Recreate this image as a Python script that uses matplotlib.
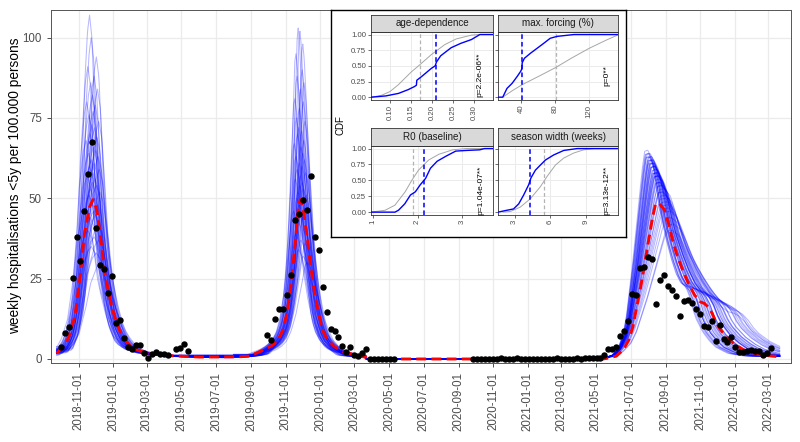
import numpy as np
import pandas as pd
import matplotlib
matplotlib.use('Agg')
import matplotlib.pyplot as plt
import matplotlib.dates as mdates

plt.rcParams['font.family'] = ['Liberation Sans', 'DejaVu Sans']

W, H = 800, 442
nan = np.nan

# observed weekly hospitalisations, one value per week from obs_start (nan = no data)
obs_start = '2018-09-30'
obs_season1 = [3.8, 8.0, 9.8, 25.2, 38.0, 30.5, 46.1, 57.7, 67.4, 40.9, 29.3, 27.9, 20.6,
               25.8, 11.3, 12.1, 6.6, 3.8, 3.0, 4.3, 4.3, 1.8, 0.2, 1.5, 2.3, 1.5, 1.5, 1.3,
               nan, 3.1, 3.5, 4.6, 2.5]
obs_gap1 = [nan] * 19
obs_season2 = [7.4, 5.9, 12.3, 15.4, 15.4, 19.8, 26.0, 43.4, 45.2, 49.6, 46.3, 56.8, 38.0,
               33.9, 22.3, 14.6, 9.4, 8.8, 6.7, 4.0, 2.2, 3.8, 1.3, 0.9, 1.8, 3.0,
               0, 0, 0, 0, 0, 0, 0]
obs_gap2 = [nan] * 19
obs_lockdown = [0, 0, 0, 0, 0, 0, 0, 0.4, 0, 0, 0, 0.4, 0, 0, 0, 0, 0, 0, 0, 0,
                0, 0.3, 0, 0, 0, 0, 0.3, 0, 0.4, 0.3]
obs_season3 = [0.2, 0.2, 0.2, 1.2, 3.0, 3.2, 3.8, 7.1, 8.6, 11.8, 20.2, 19.8, 28.2, 28.7,
               31.8, 31.1, 17.1, 24.5, 26.1, 22.7, 21.4, 19.7, 13.4, 18.1, 18.5, 17.3, 15.4,
               14.0, 10.2, 9.8, 11.8, 5.7, 10.5, 6.1, 5.3, 6.7, 3.6, 2.2, 2.2, 2.6, 2.8, 2.4,
               2.6, 1.2, 1.8, 3.4]

# mean model trajectory (red dashed)
red_dates = ['2018-09-23', '2018-10-07', '2018-10-14', '2018-10-25', '2018-11-04', '2018-11-11',
             '2018-11-20', '2018-11-26', '2018-12-03', '2018-12-10', '2018-12-17', '2018-12-24',
             '2018-12-31', '2019-01-07', '2019-01-14', '2019-01-21', '2019-02-04', '2019-02-25',
             '2019-04-02', '2019-06-02', '2019-08-12', '2019-08-29',
             '2019-09-29', '2019-10-06', '2019-10-13', '2019-10-20', '2019-10-27', '2019-11-03',
             '2019-11-10', '2019-11-17', '2019-11-24', '2019-11-27', '2019-12-01', '2019-12-08',
             '2019-12-15', '2019-12-22', '2019-12-29', '2020-01-05', '2020-01-12', '2020-01-26',
             '2020-02-09', '2020-03-02', '2020-03-16', '2020-03-21', '2020-03-22',
             '2021-05-13', '2021-05-20', '2021-06-06', '2021-06-18', '2021-06-28', '2021-07-05',
             '2021-07-12', '2021-07-19', '2021-07-26', '2021-08-02', '2021-08-09', '2021-08-14',
             '2021-08-21', '2021-08-30', '2021-09-06', '2021-09-13', '2021-09-20', '2021-10-01',
             '2021-10-11', '2021-10-22', '2021-11-01', '2021-11-08', '2021-11-15', '2021-11-22',
             '2021-11-29', '2021-12-06', '2021-12-20', '2022-01-03', '2022-01-17', '2022-01-31',
             '2022-02-14', '2022-03-08', '2022-03-21']
red_values = [1.8, 4.3, 6.7, 13.1, 26.6, 39.0, 47.3, 49.6, 46.3, 37.0, 26.6, 20.4,
              15.2, 11.1, 8.0, 5.9, 3.3, 2.0, 1.1, 0.6, 0.7, 0.9,
              3.3, 4.0, 4.9, 6.5, 9.0, 14.2, 22.5, 34.9, 48.4, 49.6, 47.3, 39.0,
              28.7, 20.4, 14.2, 9.0, 6.4, 3.8, 2.3, 1.3, 0.7, 0.6, 0.0,
              0.0, 0.2, 0.9, 2.8, 5.9, 10.0, 16.2, 22.5, 29.7, 37.0, 44.2, 48.1,
              48.4, 46.3, 42.1, 37.0, 32.8, 27.6, 23.5, 19.9, 17.8, 17.3, 16.2, 14.2,
              11.3, 9.2, 6.3, 4.3, 2.8, 2.0, 1.3, 0.9, 0.7]

# season windows and peak dates of the mean trajectory
season_start = ['2018-09-23', '2019-08-01', '2021-05-13']
season_end = ['2019-08-01', '2020-03-22', '2022-03-22']
season_peak = ['2018-11-26', '2019-11-27', '2021-08-18']

# sampled trajectories (blue): peak height and peak lag (days) per season, width factors
peak1 = [107, 100, 94, 91, 88, 86, 84, 82, 80, 79, 77, 76, 74, 73, 72, 70, 69, 68, 66, 65,
         64, 63, 62, 61, 60, 59, 58, 57, 56, 55, 54, 53, 52, 51, 50, 49, 48, 47, 46, 45,
         44, 42, 40, 38, 37, 35, 33, 30]
peak2 = [103, 102, 98, 95, 90, 88, 86, 84, 81, 80, 78, 75, 74, 72, 71, 70, 68, 67, 66, 64,
         63, 62, 61, 60, 59, 58, 57, 56, 55, 54, 53, 52, 51, 50, 49, 48, 47, 46, 45, 44,
         43, 41, 39, 37, 36, 34, 32, 30]
peak3 = [62, 64, 58, 65, 60, 63, 55, 61, 64, 57, 60, 63, 52, 61, 58, 62, 54, 64, 57, 59,
         62, 50, 60, 55, 63, 48, 57, 62, 53, 59, 51, 58, 46, 61, 55, 58, 49, 63, 56, 52,
         60, 44, 61, 54, 42, 57, 47, 40]
lag1 = [-6, -3, 6, -9, 2, -4, 8, -1, -11, 4, 0, -7, 10, -2, 3, -5, 7, -12, 1, 5,
        -8, 9, -3, 2, -6, 11, 0, -10, 4, -1, 6, -4, 12, -7, 3, -2, 8, -13, 1, 5,
        -5, 9, -9, 2, 10, -3, 6, 14]
lag2 = [-4, -1, 4, -8, 3, -6, 6, 0, -10, 5, -2, -7, 8, -3, 2, -5, 6, -11, 1, 4,
        -8, 7, -2, 3, -6, 9, 0, -9, 3, -1, 5, -4, 10, -6, 2, -2, 7, -12, 0, 4,
        -4, 8, -8, 1, 9, -3, 5, 12]
lag3 = [-10, -16, -4, -20, -8, -14, 0, -9, -18, -2, -7, -13, 6, -10, -3, -12, 4, -19, -1, -6,
        -15, 10, -8, 2, -17, 14, -3, -13, 8, -5, 10, -4, 18, -11, 1, -6, 12, -18, 0, 5,
        -9, 20, -14, 4, 24, -2, 15, 22]
width = [0.60, 0.62, 0.64, 0.66, 0.67, 0.69, 0.70, 0.71, 0.72, 0.73, 0.74, 0.75, 0.76, 0.77,
         0.78, 0.79, 0.80, 0.80, 0.81, 0.82, 0.83, 0.84, 0.85, 0.86, 0.86, 0.87, 0.88, 0.89,
         0.90, 0.91, 0.92, 0.93, 0.94, 0.95, 0.96, 0.97, 0.98, 0.99, 1.00, 1.01, 1.02, 1.04,
         1.06, 1.08, 1.10, 1.12, 1.15, 1.20]
width3 = [0.88, 0.84, 1.00, 0.80, 0.95, 0.86, 1.08, 0.92, 0.82, 1.04, 0.98, 0.85, 1.20, 0.94,
          1.05, 0.90, 1.14, 0.81, 1.08, 0.99, 0.87, 1.26, 0.96, 1.12, 0.83, 1.32, 1.06, 0.86,
          1.18, 1.00, 1.24, 1.07, 1.35, 0.92, 1.12, 1.02, 1.28, 0.84, 1.10, 1.16, 0.97, 1.38,
          0.89, 1.15, 1.40, 1.05, 1.30, 1.36]

# inset: posterior (blue) vs prior (grey) CDFs
age_prior_x = [0.057, 0.08, 0.10, 0.12, 0.15, 0.171, 0.198, 0.23, 0.257, 0.293, 0.31, 0.345]
age_prior_y = [0.0, 0.03, 0.09, 0.20, 0.40, 0.52, 0.68, 0.84, 0.93, 0.99, 1.0, 1.0]
age_post_x = [0.055, 0.09, 0.12, 0.143, 0.158, 0.1625, 0.1635, 0.175, 0.198, 0.207, 0.21,
              0.22, 0.245, 0.268, 0.293, 0.313, 0.345]
age_post_y = [0.0, 0.02, 0.06, 0.12, 0.17, 0.19, 0.27, 0.33, 0.46, 0.50, 0.56, 0.66, 0.79,
              0.86, 0.92, 1.0, 1.0]
forc_prior_x = [18, 30, 41, 60, 80, 100, 120, 140, 155]
forc_prior_y = [0, 0.11, 0.20, 0.33, 0.47, 0.63, 0.78, 0.91, 1.0]
forc_post_x = [12.4, 18, 23, 29, 35, 39, 40.5, 41, 43.5, 50.6, 58.5, 66.4, 74, 82, 102, 155]
forc_post_y = [0, 0, 0.14, 0.22, 0.33, 0.41, 0.45, 0.55, 0.62, 0.70, 0.78, 0.86, 0.94, 0.97,
               1.0, 1.0]
r0_prior_x = [0.95, 1.27, 1.49, 1.72, 1.87, 2.02, 2.25, 2.48, 2.79, 3.09, 3.7]
r0_prior_y = [0, 0.03, 0.11, 0.32, 0.50, 0.66, 0.82, 0.91, 0.98, 1.0, 1.0]
r0_post_x = [0.95, 1.49, 1.57, 1.71, 1.84, 1.95, 2.06, 2.18, 2.29, 2.44, 2.64, 2.86, 3.09,
             3.4, 3.51, 3.7]
r0_post_y = [0, 0, 0.03, 0.13, 0.27, 0.32, 0.43, 0.53, 0.69, 0.80, 0.88, 0.96, 0.97, 0.98,
             1.0, 1.0]
sw_prior_x = [2.0, 2.63, 3.48, 4.32, 5.17, 5.73, 6.44, 7.14, 7.99, 8.83, 9.68, 11.73]
sw_prior_y = [0, 0.01, 0.08, 0.21, 0.40, 0.56, 0.74, 0.85, 0.93, 0.98, 1.0, 1.0]
sw_post_x = [1.59, 2.35, 2.9, 3.34, 3.76, 4.18, 4.38, 4.75, 5.17, 5.6, 6.3, 7.14, 8.27, 11.73]
sw_post_y = [0, 0.03, 0.05, 0.13, 0.27, 0.43, 0.54, 0.66, 0.74, 0.82, 0.90, 0.97, 1.0, 1.0]

panels = [
    dict(title='age-dependence', prior=(age_prior_x, age_prior_y), post=(age_post_x, age_post_y),
         prior_med=0.172, post_med=0.209, xlim=(0.055, 0.344),
         ticks=[0.10, 0.15, 0.20, 0.25, 0.30], fmt='{:.2f}', ptxt='p=2.2e-06**', px=0.3125),
    dict(title='max. forcing (%)', prior=(forc_prior_x, forc_prior_y), post=(forc_post_x, forc_post_y),
         prior_med=81, post_med=41, xlim=(12.4, 154),
         ticks=[40, 80, 120], fmt='{:.0f}', ptxt='p=0**', px=141),
    dict(title='R0 (baseline)', prior=(r0_prior_x, r0_prior_y), post=(r0_post_x, r0_post_y),
         prior_med=1.89, post_med=2.15, xlim=(0.95, 3.70),
         ticks=[1, 2, 3], fmt='{:.0f}', ptxt='p=1.04e-07**', px=3.43),
    dict(title='season width (weeks)', prior=(sw_prior_x, sw_prior_y), post=(sw_post_x, sw_post_y),
         prior_med=5.45, post_med=4.3, xlim=(1.59, 11.73),
         ticks=[3, 6, 9], fmt='{:.0f}', ptxt='p=3.13e-12**', px=10.8),
]


def rect(x0, y0, x1, y1):
    return [x0 / W, 1 - y1 / H, (x1 - x0) / W, (y1 - y0) / H]


fig = plt.figure(figsize=(W / 100, H / 100), dpi=100)
ax = fig.add_axes(rect(51, 10, 791, 363))

# blue ensemble: each member follows the mean curve of its season, rescaled
ref = pd.Timestamp('2018-11-01')
red_t = (pd.to_datetime(red_dates) - ref).days.values.astype(float)
red_v = np.array(red_values)
grid = np.arange(red_t[0], red_t[-1] + 1)
grid_dates = ref + pd.to_timedelta(grid, unit='D')
s_start = (pd.to_datetime(season_start) - ref).days.values
s_end = (pd.to_datetime(season_end) - ref).days.values
s_peak = (pd.to_datetime(season_peak) - ref).days.values
s_max = [49.6, 49.6, 48.4]
s_knots = [(red_t >= s_start[k]) & (red_t < s_end[k]) for k in range(3)]

for i in range(len(peak1)):
    y = np.zeros_like(grid)
    params = [(peak1[i], lag1[i], width[i]), (peak2[i], lag2[i], width[i]),
              (peak3[i], lag3[i], width3[i])]
    for k, (pk, lg, wd) in enumerate(params):
        m = (grid >= s_start[k]) & (grid < s_end[k])
        tt = s_peak[k] + (grid[m] - s_peak[k] - lg) / wd
        y[m] = pk / s_max[k] * np.interp(tt, red_t[s_knots[k]], red_v[s_knots[k]])
    ax.plot(grid_dates, y, color='blue', alpha=0.28, lw=0.75, zorder=2)

ax.plot(pd.to_datetime(red_dates), red_values, color='red', lw=2.1, dashes=(3.4, 1.8), zorder=3)

obs = obs_season1 + obs_gap1 + obs_season2 + obs_gap2 + obs_lockdown + obs_season3
obs_dates = pd.date_range(obs_start, periods=len(obs), freq='7D')
ax.plot(obs_dates, obs, 'o', color='black', ms=3.6, zorder=4)

ax.set_xlim(pd.Timestamp('2018-09-13'), pd.Timestamp('2022-04-10'))
ax.set_ylim(-1.25, 108.6)
ax.set_xticks(pd.date_range('2018-11-01', '2022-03-01', freq='2MS'))
ax.xaxis.set_major_formatter(mdates.DateFormatter('%Y-%m-%d'))
ax.set_yticks([0, 25, 50, 75, 100])
ax.tick_params(axis='x', labelrotation=90)
ax.tick_params(colors='#333333', labelcolor='#4D4D4D', labelsize=8.3, length=3, width=0.6)
ax.grid(True, color='#EBEBEB', lw=0.9)
ax.set_axisbelow(True)
for sp in ax.spines.values():
    sp.set_color('#555555')
    sp.set_linewidth(0.7)
fig.text(15 / W, 1 - 186 / H, 'weekly hospitalisations <5y per 100.000 persons',
         rotation=90, ha='center', va='center', fontsize=9.9, color='black')

# inset frame
frame = fig.add_axes(rect(331, 10, 626, 237))
frame.set_xticks([])
frame.set_yticks([])
frame.set_facecolor('white')
for sp in frame.spines.values():
    sp.set_color('black')
    sp.set_linewidth(1.0)
fig.text(340 / W, 1 - 125 / H, 'CDF', rotation=90, ha='center', va='center', fontsize=7)

cols = [(371, 493), (498, 618)]
rows = [(15, 31.7, 100), (127.7, 145.7, 215)]
for j, p in enumerate(panels):
    x0, x1 = cols[j % 2]
    s0, s1, b = rows[j // 2]
    pa = fig.add_axes(rect(x0, s1, x1, b))
    pa.plot(*p['prior'], color='#A6A6A6', lw=0.7, zorder=2)
    pa.plot(*p['post'], color='blue', lw=1.0, zorder=3)
    pa.axvline(p['prior_med'], color='#B3B3B3', lw=0.9, dashes=(3, 2), zorder=2)
    pa.axvline(p['post_med'], color='blue', lw=1.1, dashes=(3, 2), zorder=3)
    pa.text(p['px'], 0.35, p['ptxt'], rotation=90, ha='center', va='center', fontsize=6.0)
    pa.set_xlim(p['xlim'])
    pa.set_ylim(-0.045, 1.045)
    pa.set_xticks(p['ticks'])
    pa.set_xticklabels([p['fmt'].format(t) for t in p['ticks']], rotation=90)
    pa.set_yticks([0, 0.25, 0.5, 0.75, 1.0])
    if j % 2 == 0:
        pa.set_yticklabels(['0.00', '0.25', '0.50', '0.75', '1.00'])
    else:
        pa.set_yticklabels([])
    pa.tick_params(colors='#333333', labelcolor='#4D4D4D', labelsize=5.6, length=2, width=0.5, pad=1.5)
    pa.grid(True, color='#EBEBEB', lw=0.7)
    pa.set_axisbelow(True)
    for sp in pa.spines.values():
        sp.set_color('#333333')
        sp.set_linewidth(0.6)
    st = fig.add_axes(rect(x0, s0, x1, s1))
    st.set_facecolor('#D9D9D9')
    st.set_xticks([])
    st.set_yticks([])
    for sp in st.spines.values():
        sp.set_color('#333333')
        sp.set_linewidth(0.6)
    st.text(0.5, 0.5, p['title'], ha='center', va='center', fontsize=7.1, color='#1A1A1A',
            transform=st.transAxes)

fig.savefig('out.png', dpi=100)
